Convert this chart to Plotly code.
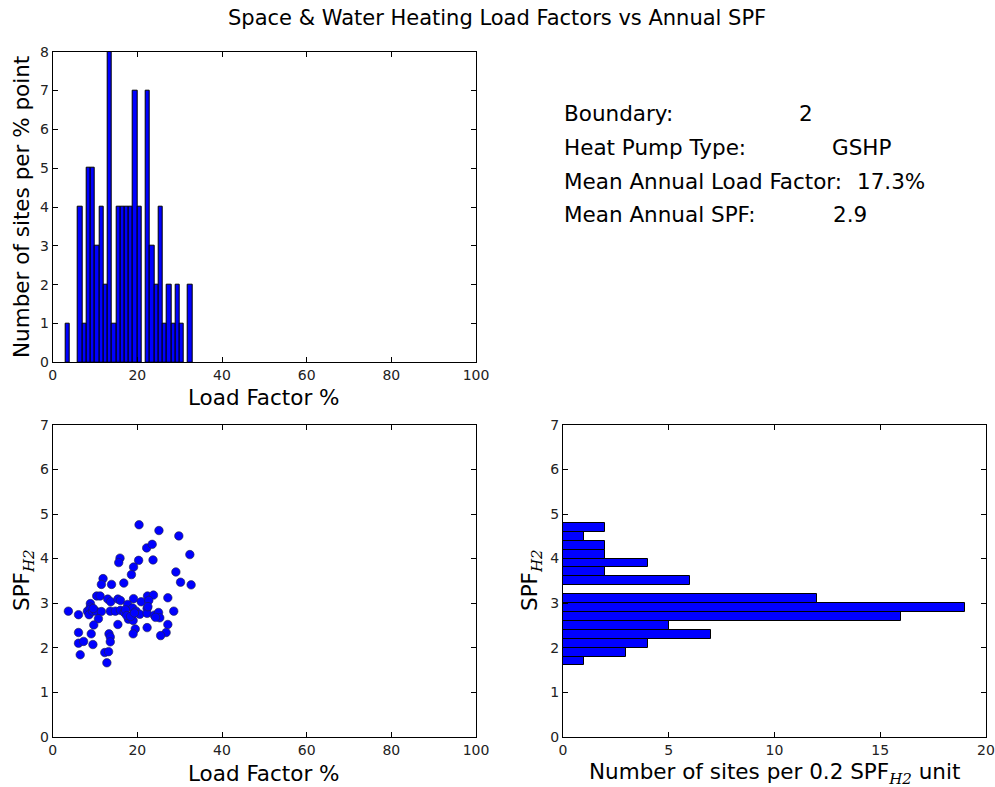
import plotly.graph_objects as go

# ---- data ----
# top histogram: 1 %-point bins (left edges) and counts
lf_bin_left = [3, 6, 7, 8, 9, 10, 11, 12, 13, 14, 15, 16, 17, 18, 19, 20,
               22, 23, 24, 25, 26, 27, 28, 29, 30, 32]
lf_counts = [1, 4, 1, 5, 5, 3, 4, 2, 8, 1, 4, 4, 4, 4, 7, 4,
             7, 3, 2, 4, 1, 2, 1, 2, 1, 2]

# right histogram: 0.2 SPF bins (lower edges) and counts
spf_bin_low = [1.6, 1.8, 2.0, 2.2, 2.4, 2.6, 2.8, 3.0, 3.4, 3.6, 3.8, 4.0, 4.2, 4.4, 4.6]
spf_counts = [1, 3, 4, 7, 5, 16, 19, 12, 6, 2, 4, 2, 2, 1, 2]

# scatter: load factor (%) and SPF H2 per site
load_factor = [20.4, 25.1, 29.8, 22.2, 23.5, 32.4, 15.9, 15.6, 20.3, 23.7,
               19.1, 18.6, 29.1, 11.9, 11.5, 13.9, 16.8, 30.2, 32.7, 10.4,
               11.2, 13.0, 13.7, 15.4, 16.0, 19.1, 20.9, 22.4, 23.8, 22.7,
               27.2, 3.7, 6.1, 8.9, 8.9, 8.2, 8.8, 8.6, 9.4, 10.2,
               11.5, 10.8, 9.7, 13.6, 14.8, 16.0, 16.9, 17.7, 18.9, 19.7,
               20.6, 18.8, 17.9, 19.0, 15.4, 19.5, 19.0, 22.3, 22.3, 24.0,
               25.0, 25.3, 28.6, 22.3, 27.2, 26.8, 25.5, 6.1, 6.1, 7.3,
               9.1, 9.5, 6.5, 13.3, 13.6, 13.6, 12.3, 13.2, 12.8, 9.6,
               17.2, 17.5, 18.4, 19.3, 22.5, 24.3]
spf_h2 = [4.76, 4.63, 4.51, 4.24, 4.32, 4.09, 4.01, 3.91, 3.96, 3.97,
          3.81, 3.64, 3.70, 3.55, 3.42, 3.42, 3.45, 3.47, 3.41, 3.16,
          3.16, 3.09, 3.03, 3.09, 3.06, 3.10, 3.03, 3.16, 3.18, 3.06,
          3.12, 2.82, 2.74, 2.99, 2.91, 2.82, 2.86, 2.74, 2.82, 2.82,
          2.81, 2.65, 2.51, 2.82, 2.82, 2.84, 2.79, 2.97, 2.89, 2.82,
          2.75, 2.73, 2.64, 2.61, 2.52, 2.42, 2.31, 2.88, 2.77, 2.73,
          2.79, 2.67, 2.82, 2.45, 2.52, 2.34, 2.27, 2.34, 2.10, 2.14,
          2.31, 2.07, 1.84, 2.31, 2.24, 2.13, 1.89, 1.91, 1.66, 2.88,
          2.85, 2.72, 2.70, 2.78, 2.92, 2.68]

info_labels = ["Boundary:", "Heat Pump Type:", "Mean Annual Load Factor:", "Mean Annual SPF:"]
info_values = ["2", "GSHP", "17.3%", "2.9"]

TITLE = "Space & Water Heating Load Factors vs Annual SPF"

# ---- layout helpers (pixel -> paper) ----
W, H = 995, 787
def px_x(p): return p / W
def px_y(p): return 1 - p / H

FONT = "DejaVu Sans"
BLUE = "#0000ff"
BIG = 21.5
TICK = 14

fig = go.Figure()

fig.add_trace(go.Bar(
    x=[b + 0.5 for b in lf_bin_left], y=lf_counts, width=1,
    marker=dict(color=BLUE, line=dict(color="black", width=1)),
    xaxis="x", yaxis="y", showlegend=False))

fig.add_trace(go.Scatter(
    x=load_factor, y=spf_h2, mode="markers",
    marker=dict(color=BLUE, size=8.5, line=dict(color="#222244", width=0.6)),
    xaxis="x2", yaxis="y2", showlegend=False))

fig.add_trace(go.Bar(
    y=[b + 0.1 for b in spf_bin_low], x=spf_counts, width=0.2, orientation="h",
    marker=dict(color=BLUE, line=dict(color="black", width=1)),
    xaxis="x3", yaxis="y3", showlegend=False))

ax_common = dict(showline=True, linecolor="black", linewidth=1, mirror="ticks",
                 ticks="inside", ticklen=5, tickcolor="black", showgrid=False,
                 zeroline=False, tickfont=dict(family=FONT, size=TICK, color="#222"))

top_y = [px_y(362.3), px_y(51.7)]
bot_y = [px_y(736.7), px_y(425)]
left_x = [px_x(52.7), px_x(476)]
right_x = [px_x(563), px_x(986)]

fig.update_layout(
    width=W, height=H, margin=dict(l=0, r=0, t=0, b=0, autoexpand=False),
    paper_bgcolor="white", plot_bgcolor="white", bargap=0,
    font=dict(family=FONT, color="black"),
    xaxis=dict(domain=left_x, range=[0, 100], dtick=20, anchor="y", **ax_common),
    yaxis=dict(domain=top_y, range=[0, 8], dtick=1, anchor="x", **ax_common),
    xaxis2=dict(domain=left_x, range=[0, 100], dtick=20, anchor="y2", **ax_common),
    yaxis2=dict(domain=bot_y, range=[0, 7], dtick=1, anchor="x2", **ax_common),
    xaxis3=dict(domain=right_x, range=[0, 20], dtick=5, anchor="y3", **ax_common),
    yaxis3=dict(domain=bot_y, range=[0, 7], dtick=1, anchor="x3", **ax_common),
)

ann = []
def text(x, y, s, size=BIG, angle=0, xanchor="center", yanchor="middle"):
    ann.append(dict(x=px_x(x), y=px_y(y), xref="paper", yref="paper", text=s,
                    showarrow=False, textangle=angle, xanchor=xanchor, yanchor=yanchor,
                    font=dict(family=FONT, size=size, color="black")))

sub = "<sub><span style='font-family:DejaVu Serif'><i>H2</i></span></sub>"
text(497, 18, TITLE, size=21)
text(264, 398, "Load Factor %")
text(264, 773, "Load Factor %")
text(774, 773, "Number of sites per 0.2 SPF" + sub + " unit")
text(21, 207, "Number of sites per % point", angle=-90)
text(23, 580, "SPF" + sub, angle=-90)
text(531, 580, "SPF" + sub, angle=-90)

label_y = [113, 147, 181, 214]
value_x = [797, 830, 855, 831]
for lbl, val, yy, vx in zip(info_labels, info_values, label_y, value_x):
    text(562, yy, lbl, xanchor="left")
    text(vx, yy, val, xanchor="left")

fig.update_layout(annotations=ann)
fig.write_html("out.html")
